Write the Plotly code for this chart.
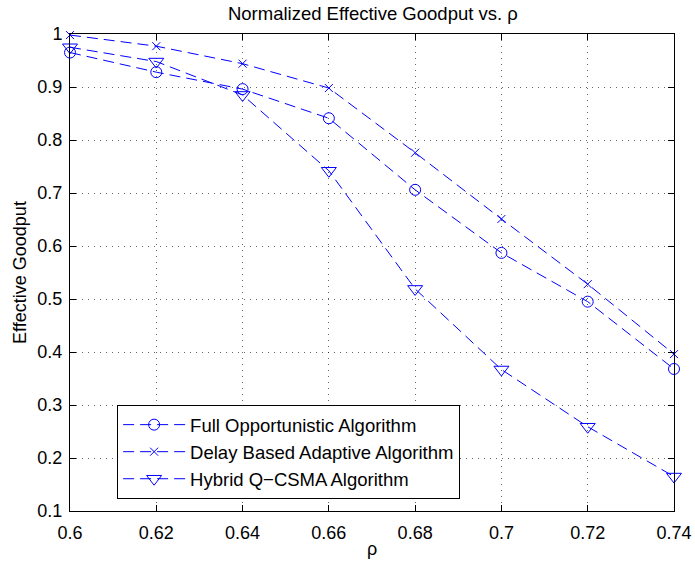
import plotly.graph_objects as go

rho = [0.60, 0.62, 0.64, 0.66, 0.68, 0.70, 0.72, 0.74]
full_opportunistic = [0.965, 0.928, 0.896, 0.841, 0.706, 0.587, 0.495, 0.368]
delay_adaptive = [0.998, 0.977, 0.944, 0.898, 0.776, 0.651, 0.528, 0.396]
hybrid_qcsma = [0.975, 0.948, 0.885, 0.742, 0.519, 0.367, 0.259, 0.165]

x_ticks = [0.60, 0.62, 0.64, 0.66, 0.68, 0.70, 0.72, 0.74]
x_tick_text = ["0.6", "0.62", "0.64", "0.66", "0.68", "0.7", "0.72", "0.74"]
y_ticks = [0.1, 0.2, 0.3, 0.4, 0.5, 0.6, 0.7, 0.8, 0.9, 1.0]
y_tick_text = ["0.1", "0.2", "0.3", "0.4", "0.5", "0.6", "0.7", "0.8", "0.9", "1"]

blue = "#0000ff"
font_family = "Liberation Sans, Arial, sans-serif"

series = [
    ("Full Opportunistic Algorithm", full_opportunistic, "circle-open", 11),
    ("Delay Based Adaptive Algorithm", delay_adaptive, "x-thin-open", 8),
    ("Hybrid Q\u2212CSMA Algorithm", hybrid_qcsma, "triangle-down-open", 13),
]

fig = go.Figure()
for name, values, symbol, size in series:
    fig.add_trace(go.Scatter(
        x=rho, y=values, name=name, mode="lines+markers", cliponaxis=False,
        line=dict(color=blue, width=1, dash="11px,6px"),
        marker=dict(symbol=symbol, size=size, color=blue,
                    line=dict(color=blue, width=1)),
    ))

axis_common = dict(
    showline=True, linecolor="black", linewidth=1, mirror="allticks",
    ticks="inside", ticklen=6, tickcolor="black", tickwidth=1,
    showgrid=True, gridcolor="rgba(0,0,0,0.6)", griddash="1px,5px", gridwidth=1,
    zeroline=False, automargin=False,
    tickfont=dict(size=18, color="black", family=font_family),
)

fig.update_xaxes(
    range=[0.60, 0.74], tickvals=x_ticks, ticktext=x_tick_text, ticklabelstandoff=5,
    title=dict(text="\u03c1", font=dict(size=18, color="black", family=font_family), standoff=0),
    **axis_common,
)
fig.update_yaxes(
    range=[0.1, 1.0], tickvals=y_ticks, ticktext=y_tick_text, ticklabelstandoff=3,
    title=dict(text="Effective Goodput", font=dict(size=18, color="black", family=font_family), standoff=6),
    **axis_common,
)

fig.update_layout(
    width=695, height=563,
    margin=dict(l=70, r=21, t=34, b=52),
    paper_bgcolor="white", plot_bgcolor="white",
    font=dict(family=font_family, color="black"),
    title=dict(text="Normalized Effective Goodput vs. \u03c1", x=0.5365, xanchor="center",
               y=0.976, yanchor="middle", font=dict(size=18.5, color="black", family=font_family)),
    legend=dict(
        x=0.078, y=0.222, xanchor="left", yanchor="top",
        bgcolor="white", bordercolor="black", borderwidth=1,
        font=dict(size=18.5, color="black", family=font_family),
        itemwidth=62, tracegroupgap=0,
    ),
)

fig.write_html("out.html")
